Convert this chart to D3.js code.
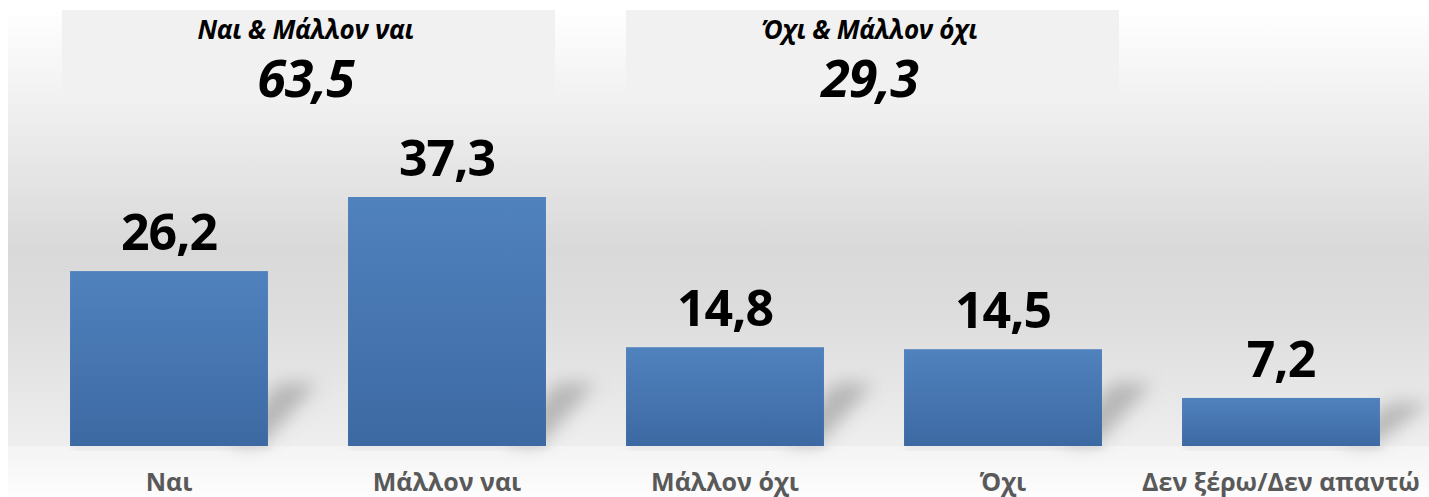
<!DOCTYPE html>
<meta charset="utf-8">
<style>
  body { margin: 0; background: #fff; }
  text { font-family: "Open Sans", "Noto Sans", sans-serif; }
  .value { font-weight: bold; font-size: 50px; fill: #000; letter-spacing: -1px; }
  .cat { font-weight: bold; font-size: 25px; fill: #595959; }
  .grp-title { font-weight: bold; font-style: italic; font-size: 26px; fill: #000; letter-spacing: -0.3px; }
  .grp-value { font-weight: bold; font-style: italic; font-size: 52px; fill: #000; letter-spacing: -1px; }
</style>
<svg width="1429" height="497"></svg>
<script src="https://d3js.org/d3.v7.min.js"></script>
<script>

  var categories = ["Ναι", "Μάλλον ναι", "Μάλλον όχι", "Όχι", "Δεν ξέρω/Δεν απαντώ"];
  var values = [26.2, 37.3, 14.8, 14.5, 7.2];
  var valueLabels = ["26,2", "37,3", "14,8", "14,5", "7,2"];

  var groupTitles = ["Ναι & Μάλλον ναι", "Όχι & Μάλλον όχι"];
  var groupValues = ["63,5", "29,3"];
  var groupMembers = [["Ναι", "Μάλλον ναι"], ["Μάλλον όχι", "Όχι"]];

  var svg = d3.select("svg"),
      margin = {top: 10, left: 30, right: 9},
      baseY = 446;

  var x = d3.scaleBand().domain(categories).range([30, 1420]).paddingInner(0.288).paddingOuter(0.144);
  var y = d3.scaleLinear().domain([0, 37.3]).range([baseY, 197]);

  var defs = svg.append("defs");

  var wall = defs.append("linearGradient").attr("id", "wall").attr("x1", 0).attr("y1", 0).attr("x2", 0).attr("y2", 1);
  [[0, "#ffffff"], [0.2, "#f1f1f1"], [0.55, "#d9d9d9"], [0.7, "#dddddd"], [1, "#eeeeee"]].forEach(function(s) {
    wall.append("stop").attr("offset", s[0]).attr("stop-color", s[1]);
  });

  var floor = defs.append("linearGradient").attr("id", "floor").attr("x1", 0).attr("y1", 0).attr("x2", 0).attr("y2", 1);
  floor.append("stop").attr("offset", 0).attr("stop-color", "#f4f4f4");
  floor.append("stop").attr("offset", 1).attr("stop-color", "#fdfdfd");

  var barGrad = defs.append("linearGradient").attr("id", "bar").attr("x1", 0).attr("y1", 0).attr("x2", 0).attr("y2", 1);
  barGrad.append("stop").attr("offset", 0).attr("stop-color", "#5082be");
  barGrad.append("stop").attr("offset", 1).attr("stop-color", "#3d69a2");

  var boxGrad = defs.append("linearGradient").attr("id", "box").attr("x1", 0).attr("y1", 0).attr("x2", 0).attr("y2", 1);
  boxGrad.append("stop").attr("offset", 0).attr("stop-color", "#f1f1f1");
  boxGrad.append("stop").attr("offset", 0.85).attr("stop-color", "#f1f1f1");
  boxGrad.append("stop").attr("offset", 1).attr("stop-color", "#f1f1f1").attr("stop-opacity", 0);

  defs.append("filter").attr("id", "blur").attr("x", "-50%").attr("y", "-50%").attr("width", "200%").attr("height", "200%")
    .append("feGaussianBlur").attr("stdDeviation", 9);
  defs.append("filter").attr("id", "blur2").attr("x", "-50%").attr("y", "-50%").attr("width", "200%").attr("height", "200%")
    .append("feGaussianBlur").attr("stdDeviation", 3);

  // background: wall + floor
  svg.append("rect").attr("x", 8).attr("y", margin.top).attr("width", 1429 - 8).attr("height", baseY - margin.top)
    .attr("fill", "url(#wall)");
  svg.append("rect").attr("x", 8).attr("y", baseY).attr("width", 1429 - 8).attr("height", 497 - baseY)
    .attr("fill", "url(#floor)");

  // group boxes with totals
  var bw = x.bandwidth();
  var boxShift = [-8, 0], boxW = 493;

  groupTitles.forEach(function(t, i) {
    var bx = x(groupMembers[i][0]) + boxShift[i],
        cx = bx + boxW / 2 - 3;
    svg.append("rect").attr("x", bx).attr("y", margin.top)
      .attr("width", boxW).attr("height", 95)
      .attr("fill", "url(#box)");
    svg.append("text").attr("class", "grp-title").attr("x", cx).attr("y", 39)
      .attr("text-anchor", "middle").text(t);
    svg.append("text").attr("class", "grp-value").attr("x", cx).attr("y", 97)
      .attr("text-anchor", "middle").text(groupValues[i]);
  });

  // shadows behind bars
  svg.append("g").selectAll("path")
    .data(values)
    .join("path")
    .attr("d", function(d, i) {
      var x0 = x(categories[i]), x1 = x0 + bw;
      var h = Math.min(y(0) - y(d), 70);
      return "M" + (x1 - 40) + "," + (baseY - 2) +
             "L" + (x1 - 5) + "," + (baseY - 2) +
             "L" + (x1 + 50) + "," + (baseY - h * 0.9) +
             "L" + (x1 + 10) + "," + (baseY - h * 0.9) + "Z";
    })
    .attr("fill", "#a0a0a0")
    .attr("opacity", 0.7)
    .attr("filter", "url(#blur)");

  // soft shadow under bars
  svg.append("g").selectAll("rect")
    .data(values)
    .join("rect")
    .attr("x", function(d, i) { return x(categories[i]) + 2; })
    .attr("y", baseY - 1)
    .attr("width", bw)
    .attr("height", 4)
    .attr("fill", "#d4d4d4")
    .attr("opacity", 0.7)
    .attr("filter", "url(#blur2)");

  // bars
  svg.append("g").selectAll("rect")
    .data(values)
    .join("rect")
    .attr("x", function(d, i) { return x(categories[i]); })
    .attr("y", function(d) { return y(d); })
    .attr("width", bw)
    .attr("height", function(d) { return y(0) - y(d); })
    .attr("fill", "url(#bar)");

  // value labels
  svg.append("g").selectAll("text")
    .data(values)
    .join("text")
    .attr("class", "value")
    .attr("x", function(d, i) { return x(categories[i]) + bw / 2; })
    .attr("y", function(d) { return y(d) - 21; })
    .attr("text-anchor", "middle")
    .text(function(d, i) { return valueLabels[i]; });

  // category axis (no line/ticks)
  var axis = svg.append("g")
    .attr("transform", "translate(0," + baseY + ")")
    .call(d3.axisBottom(x).tickSize(0).tickPadding(0));
  axis.select(".domain").remove();
  axis.selectAll("text")
    .attr("class", "cat")
    .attr("y", 45)
    .attr("dy", 0)
    .attr("font-family", null)
    .attr("font-size", null)
    .attr("fill", null)
    .style("fill", "#595959");

</script>
